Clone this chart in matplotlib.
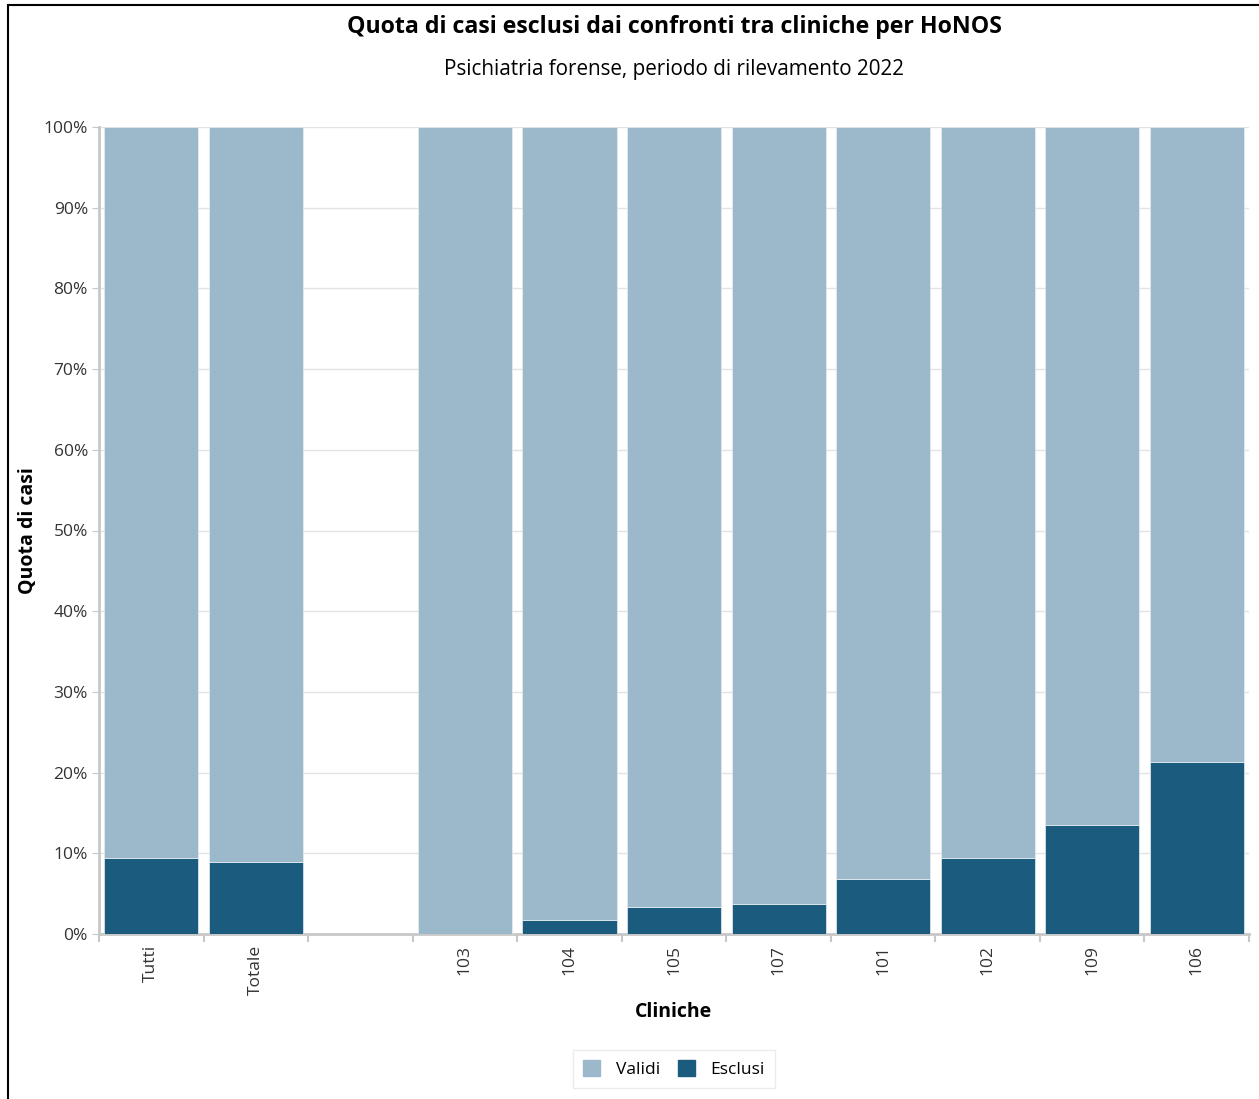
import matplotlib
matplotlib.use('Agg')
import matplotlib.pyplot as plt
import numpy as np
from matplotlib.patches import Patch, Rectangle
from matplotlib.ticker import PercentFormatter

# Data
categories = ['Tutti', 'Totale', '', '103', '104', '105', '107', '101', '102', '109', '106']
esclusi = [9.4, 8.9, np.nan, 0.0, 1.7, 3.3, 3.7, 6.8, 9.4, 13.5, 21.3]
validi = [np.nan if np.isnan(e) else 100 - e for e in esclusi]

col_validi = '#9bb9cb'
col_esclusi = '#1b5b7e'

plt.rcParams['font.family'] = ['Open Sans', 'DejaVu Sans']

fig = plt.figure(figsize=(12.59, 10.99), dpi=100)
ax = fig.add_axes([99 / 1259, 1 - 934 / 1099, 1150 / 1259, 807 / 1099])

x = np.arange(len(categories))
ax.bar(x, esclusi, width=0.9, color=col_esclusi, edgecolor='#e8eef2', linewidth=0.5, zorder=3)
ax.bar(x, validi, bottom=esclusi, width=0.9, color=col_validi, edgecolor='#e8eef2', linewidth=0.5, zorder=3)

ax.set_xlim(-0.5, len(categories) - 0.5)
ax.set_ylim(0, 100)

# y axis
ax.set_yticks(np.arange(0, 101, 10))
ax.yaxis.set_major_formatter(PercentFormatter(decimals=0))
ax.grid(axis='y', color='#e3e3e3', linewidth=1, zorder=0)
ax.tick_params(axis='y', length=5, color='#c8c8c8', labelsize=12.5, labelcolor='#333333', pad=3)

# x axis: labels at centres, tick marks at band boundaries
ax.set_xticks(x)
ax.set_xticklabels(categories, rotation=90, fontsize=12.5, color='#333333')
ax.tick_params(axis='x', which='major', length=0, pad=8)
ax.set_xticks(np.arange(-0.5, len(categories)), minor=True)
ax.tick_params(axis='x', which='minor', length=6, color='#c8c8c8', width=1.5)

for s in ['top', 'right']:
    ax.spines[s].set_visible(False)
for s in ['left', 'bottom']:
    ax.spines[s].set_color('#c8c8c8')
    ax.spines[s].set_linewidth(2)

ax.set_ylabel('Quota di casi', fontsize=14, fontweight='bold', va='center')
ax.yaxis.set_label_coords((28 - 99) / 1150, 0.5)
ax.set_xlabel('Cliniche', fontsize=14, fontweight='bold', va='center')
ax.xaxis.set_label_coords(0.5, (934 - 1012) / 807)

fig.text(674 / 1259, 1 - 27 / 1099, 'Quota di casi esclusi dai confronti tra cliniche per HoNOS',
         ha='center', va='center', fontsize=16.7, fontweight='bold')
fig.text(674 / 1259, 1 - 70 / 1099, 'Psichiatria forense, periodo di rilevamento 2022',
         ha='center', va='center', fontsize=14.9)

handles = [Patch(color=col_validi, label='Validi'), Patch(color=col_esclusi, label='Esclusi')]
leg = fig.legend(handles=handles, loc='center', bbox_to_anchor=(674 / 1259, 1 - 1069 / 1099),
                 ncol=2, frameon=True, fontsize=12.5, handlelength=1.0, handleheight=1.0,
                 columnspacing=1.0, handletextpad=0.9, borderpad=0.6, fancybox=False)
leg.get_frame().set_edgecolor('#e6e6e6')
leg.get_frame().set_linewidth(1)

# outer border
fig.patches.append(Rectangle((8 / 1259, -0.05), 1.1, 1 - 5 / 1099 + 0.05, transform=fig.transFigure,
                             fill=False, edgecolor='black', linewidth=1.5))

fig.savefig('out.png', dpi=100)
